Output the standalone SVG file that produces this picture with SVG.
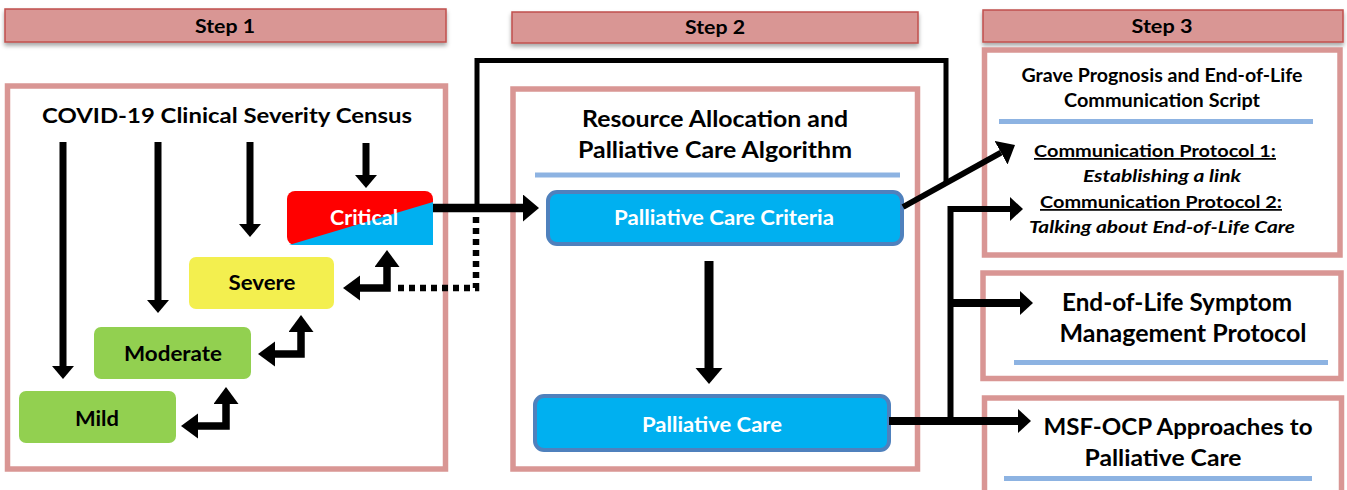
<svg xmlns="http://www.w3.org/2000/svg" width="1347" height="490" viewBox="0 0 1347 490">
  <style>
    text { font-family: Lato, "Liberation Sans", sans-serif; font-weight: bold; fill: #000; text-anchor: middle; }
    .hdr { fill: #d99694; stroke: #c0504d; stroke-width: 1.5; }
    .frame { fill: #fff; stroke: #d99694; stroke-width: 5.5; }
    .sep { stroke: #8db3e2; stroke-width: 5; }
    .pc { fill: #00b0f0; stroke: #4f81bd; stroke-width: 4; }
    .white { fill: #fff; }
    .wire { fill: none; stroke: #000; stroke-linejoin: miter; stroke-linecap: butt; }
    .ital { font-style: italic; }
    .ul { text-decoration: underline; }
  </style>
  <defs>
    <filter id="shadow" x="-5%" y="-30%" width="110%" height="180%">
      <feDropShadow dx="0" dy="3" stdDeviation="2" flood-color="#000" flood-opacity="0.35"/>
    </filter>
    <marker id="arrowSm" markerUnits="userSpaceOnUse" markerWidth="14" markerHeight="22" refX="0" refY="11" orient="auto">
      <path d="M0,0 L13,11 L0,22 Z" fill="#000"/>
    </marker>
    <marker id="arrowMd" markerUnits="userSpaceOnUse" markerWidth="18" markerHeight="26" refX="0" refY="12.5" orient="auto-start-reverse">
      <path d="M0,0 L17,12.5 L0,25 Z" fill="#000"/>
    </marker>
    <marker id="arrowLg" markerUnits="userSpaceOnUse" markerWidth="17" markerHeight="28" refX="0" refY="13.5" orient="auto">
      <path d="M0,0 L16,13.5 L0,27 Z" fill="#000"/>
    </marker>
    <marker id="arrowR" markerUnits="userSpaceOnUse" markerWidth="14" markerHeight="26" refX="0" refY="12" orient="auto">
      <path d="M0,0 L13,12 L0,24 Z" fill="#000"/>
    </marker>
  </defs>

  <!-- step headers -->
  <g id="step1-header">
    <rect class="hdr" x="5" y="9" width="441" height="33" filter="url(#shadow)"/>
    <text x="225" y="33" font-size="19" textLength="60" lengthAdjust="spacingAndGlyphs">Step 1</text>
  </g>
  <g id="step2-header">
    <rect class="hdr" x="512" y="12" width="406" height="31" filter="url(#shadow)"/>
    <text x="715" y="34" font-size="19" textLength="60" lengthAdjust="spacingAndGlyphs">Step 2</text>
  </g>
  <g id="step3-header">
    <rect class="hdr" x="983" y="10" width="360" height="32" filter="url(#shadow)"/>
    <text x="1162" y="33" font-size="19" textLength="61" lengthAdjust="spacingAndGlyphs">Step 3</text>
  </g>

  <!-- step 1: severity census -->
  <g id="census">
    <rect class="frame" x="7.5" y="86" width="438" height="383"/>
    <text x="227" y="123" font-size="21" textLength="370" lengthAdjust="spacingAndGlyphs">COVID-19 Clinical Severity Census</text>
  </g>
  <g id="critical">
    <rect x="287" y="191" width="146" height="54" rx="8" fill="#ff0000"/>
    <polygon points="289,245 433,202 433,245" fill="#00b0f0"/>
    <text class="white" x="364" y="225" font-size="21" textLength="68" lengthAdjust="spacingAndGlyphs">Critical</text>
  </g>
  <g id="severe">
    <rect x="189" y="257" width="145" height="52" rx="7" fill="#f3ef4f"/>
    <text x="262" y="290" font-size="20.5" textLength="67" lengthAdjust="spacingAndGlyphs">Severe</text>
  </g>
  <g id="moderate">
    <rect x="94" y="327" width="157" height="52" rx="7" fill="#92d050"/>
    <text x="173" y="361" font-size="20.5" textLength="98" lengthAdjust="spacingAndGlyphs">Moderate</text>
  </g>
  <g id="mild">
    <rect x="19" y="391" width="157" height="52" rx="7" fill="#92d050"/>
    <text x="97" y="426" font-size="20.5" textLength="44" lengthAdjust="spacingAndGlyphs">Mild</text>
  </g>

  <!-- step 2: allocation algorithm -->
  <g id="algorithm">
    <rect class="frame" x="513" y="89" width="404.5" height="380"/>
    <text x="715" y="127" font-size="22" textLength="266" lengthAdjust="spacingAndGlyphs">Resource Allocation and</text>
    <text x="715" y="158" font-size="22" textLength="274" lengthAdjust="spacingAndGlyphs">Palliative Care Algorithm</text>
    <line class="sep" x1="535" y1="175" x2="900" y2="175" stroke-width="4"/>
  </g>
  <g id="pc-criteria">
    <rect class="pc" x="548" y="192" width="354" height="52" rx="9"/>
    <text class="white" x="724" y="225" font-size="20" textLength="220" lengthAdjust="spacingAndGlyphs">Palliative Care Criteria</text>
  </g>
  <g id="palliative-care">
    <rect class="pc" x="535" y="396" width="354" height="54" rx="9"/>
    <text class="white" x="712" y="432" font-size="20" textLength="140" lengthAdjust="spacingAndGlyphs">Palliative Care</text>
  </g>

  <!-- step 3: protocols -->
  <g id="communication">
    <rect class="frame" x="984.5" y="50" width="355.5" height="205"/>
    <text x="1162" y="82" font-size="18.5" textLength="281" lengthAdjust="spacingAndGlyphs">Grave Prognosis and End-of-Life</text>
    <text x="1162" y="107" font-size="18.5" textLength="196" lengthAdjust="spacingAndGlyphs">Communication Script</text>
    <line class="sep" x1="999" y1="121.5" x2="1313" y2="121.5"/>
    <text class="ul" x="1155" y="157" font-size="17.5" textLength="242" lengthAdjust="spacingAndGlyphs">Communication Protocol 1:</text>
    <text class="ital" x="1162" y="182" font-size="17.5" textLength="158" lengthAdjust="spacingAndGlyphs">Establishing a link</text>
    <text class="ul" x="1161" y="208" font-size="17.5" textLength="242" lengthAdjust="spacingAndGlyphs">Communication Protocol 2:</text>
    <text class="ital" x="1162" y="233" font-size="17.5" textLength="266" lengthAdjust="spacingAndGlyphs">Talking about End-of-Life Care</text>
  </g>
  <g id="symptom">
    <rect class="frame" x="983" y="273" width="358" height="105.5"/>
    <text x="1177" y="311" font-size="24" textLength="230" lengthAdjust="spacingAndGlyphs">End-of-Life Symptom</text>
    <text x="1183" y="342" font-size="24" textLength="247" lengthAdjust="spacingAndGlyphs">Management Protocol</text>
    <line class="sep" x1="1014" y1="362.5" x2="1328" y2="362.5"/>
  </g>
  <g id="msf-ocp">
    <rect class="frame" x="984.5" y="398" width="357" height="110"/>
    <text x="1178" y="435" font-size="23.5" textLength="269" lengthAdjust="spacingAndGlyphs">MSF-OCP Approaches to</text>
    <text x="1163" y="466" font-size="23.5" textLength="157" lengthAdjust="spacingAndGlyphs">Palliative Care</text>
    <line class="sep" x1="1004" y1="478.5" x2="1312" y2="478.5"/>
  </g>

  <!-- connectors -->
  <g id="connectors">
    <!-- census to each severity level -->
    <line class="wire" x1="63" y1="142" x2="63" y2="366" stroke-width="7" marker-end="url(#arrowSm)"/>
    <line class="wire" x1="158" y1="142" x2="158" y2="300" stroke-width="7" marker-end="url(#arrowSm)"/>
    <line class="wire" x1="250" y1="142" x2="250" y2="224" stroke-width="7" marker-end="url(#arrowSm)"/>
    <line class="wire" x1="366" y1="143" x2="366" y2="175" stroke-width="7" marker-end="url(#arrowSm)"/>

    <!-- escalation / de-escalation between levels -->
    <path class="wire" d="M360,288 L387,288 L387,267" stroke-width="7.5" marker-start="url(#arrowMd)" marker-end="url(#arrowMd)"/>
    <path class="wire" d="M275,354 L301,354 L301,332" stroke-width="7.5" marker-start="url(#arrowMd)" marker-end="url(#arrowMd)"/>
    <path class="wire" d="M198,426 L226,426 L226,404" stroke-width="7.5" marker-start="url(#arrowMd)" marker-end="url(#arrowMd)"/>

    <!-- dotted return loop to severe -->
    <path class="wire" d="M398,288 L476,288 L476,212" stroke-width="6.5" stroke-dasharray="6 5"/>

    <!-- critical to criteria -->
    <line class="wire" x1="433" y1="208" x2="523" y2="208" stroke-width="8.5" marker-end="url(#arrowLg)"/>

    <!-- bypass over step 2 -->
    <path class="wire" d="M477,212 L477,60.5 L946,60.5 L946,184" stroke-width="5"/>

    <!-- criteria to palliative care -->
    <line class="wire" x1="709" y1="261" x2="709" y2="368" stroke-width="9" marker-end="url(#arrowLg)"/>

    <!-- criteria to communication protocol 1 -->
    <line class="wire" x1="903" y1="207" x2="1001" y2="152.7" stroke-width="6" marker-end="url(#arrowLg)"/>

    <!-- palliative care to step 3 protocols -->
    <line class="wire" x1="889" y1="421" x2="1018" y2="421" stroke-width="8" marker-end="url(#arrowR)"/>
    <path class="wire" d="M950.5,421 L950.5,209 L1010,209" stroke-width="6" marker-end="url(#arrowR)"/>
    <line class="wire" x1="950" y1="303" x2="1020" y2="303" stroke-width="8" marker-end="url(#arrowR)"/>
  </g>
</svg>
